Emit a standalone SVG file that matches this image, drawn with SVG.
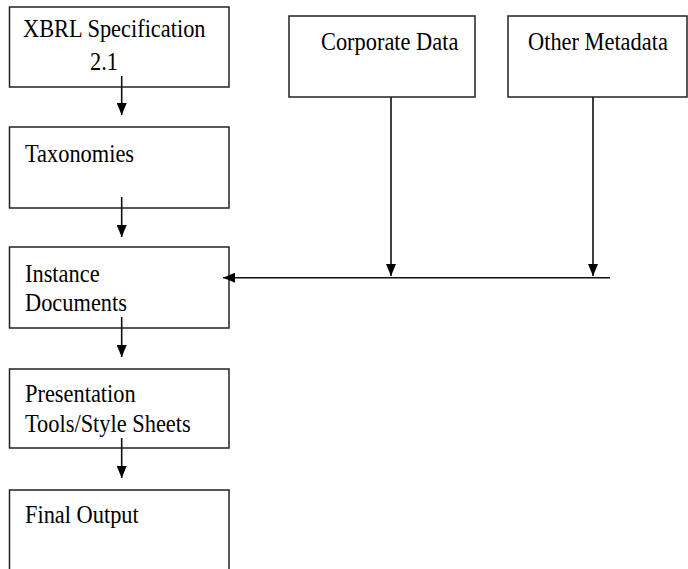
<svg xmlns="http://www.w3.org/2000/svg" width="688" height="569" viewBox="0 0 688 569">
<style>
.box{fill:#fff;stroke:#222;stroke-width:1.5}
.t{font-family:"Liberation Serif","Times New Roman",serif;font-size:22.4px;fill:#000}
.c{stroke:#111;stroke-width:1.6;fill:none}
</style>
<defs>
<marker id="ah" markerUnits="userSpaceOnUse" markerWidth="12" markerHeight="10" refX="12" refY="5" orient="auto">
<path d="M0,0 L12,5 L0,10 z" fill="#000"/>
</marker>
</defs>
<rect width="688" height="569" fill="#fff"/>
<g id="n1"><rect class="box" x="9.5" y="7" width="219.5" height="80"/>
<text class="t" transform="translate(23,37) scale(1,1.17)">XBRL Specification</text>
<text class="t" transform="translate(90,70) scale(1,1.17)">2.1</text></g>
<g id="n2"><rect class="box" x="9.5" y="127" width="219.5" height="81"/>
<text class="t" transform="translate(25,162) scale(1,1.17)">Taxonomies</text></g>
<g id="n3"><rect class="box" x="9.5" y="247" width="219.5" height="81"/>
<text class="t" transform="translate(25,282) scale(1,1.17)">Instance</text>
<text class="t" transform="translate(25,311) scale(1,1.17)">Documents</text></g>
<g id="n4"><rect class="box" x="9.5" y="369" width="219.5" height="79"/>
<text class="t" transform="translate(25,402) scale(1,1.17)">Presentation</text>
<text class="t" transform="translate(25,432) scale(1,1.17)">Tools/Style Sheets</text></g>
<g id="n5"><rect class="box" x="9.5" y="490" width="219.5" height="100"/>
<text class="t" transform="translate(25,523) scale(1,1.17)">Final Output</text></g>
<g id="n6"><rect class="box" x="289" y="16" width="186" height="81"/>
<text class="t" transform="translate(321,50) scale(1,1.17)">Corporate Data</text></g>
<g id="n7"><rect class="box" x="508" y="16" width="179" height="81"/>
<text class="t" transform="translate(528,50) scale(1,1.17)">Other Metadata</text></g>
<g id="connectors">
<line class="c" x1="121.7" y1="76" x2="121.7" y2="115" marker-end="url(#ah)"/>
<line class="c" x1="121.7" y1="197" x2="121.7" y2="237" marker-end="url(#ah)"/>
<line class="c" x1="121.7" y1="317" x2="121.7" y2="357" marker-end="url(#ah)"/>
<line class="c" x1="121.7" y1="438" x2="121.7" y2="478" marker-end="url(#ah)"/>
<line class="c" x1="391" y1="97" x2="391" y2="276" marker-end="url(#ah)"/>
<line class="c" x1="593" y1="97" x2="593" y2="276" marker-end="url(#ah)"/>
<line class="c" x1="610" y1="277.7" x2="223" y2="277.7" marker-end="url(#ah)"/>
</g>
</svg>
